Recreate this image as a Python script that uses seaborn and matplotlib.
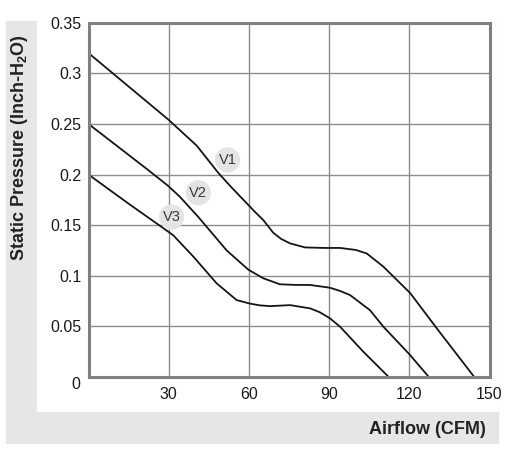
import pandas as pd
import seaborn as sns
import matplotlib.pyplot as plt
from matplotlib.patches import Rectangle

# Fan curves (airflow in CFM, static pressure in inch H2O)
v1_x = [0, 30, 40.5, 48.6, 53.6, 62.3, 65.4, 69.1, 72, 75.4, 81, 88, 94.1, 100, 104.1, 110.3, 115.3, 120.3, 130.3, 144.3]
v1_y = [0.320, 0.254, 0.2285, 0.2015, 0.187, 0.163, 0.155, 0.1425, 0.1365, 0.132, 0.128, 0.1275, 0.1275, 0.1255, 0.122, 0.109, 0.096, 0.083, 0.048, 0.0]

v2_x = [0, 22.3, 29.7, 34.2, 41.1, 51.7, 59.8, 65.4, 71.6, 77, 82.9, 90.3, 94.1, 97.8, 100.3, 105.3, 110.3, 120.3, 127.3]
v2_y = [0.250, 0.2045, 0.189, 0.178, 0.158, 0.125, 0.106, 0.0975, 0.0916, 0.091, 0.0909, 0.0882, 0.085, 0.081, 0.076, 0.066, 0.0497, 0.0217, 0.0]

v3_x = [0, 14.8, 27.2, 31.7, 39.2, 47.9, 55.4, 60.4, 64, 67.9, 75.4, 82.9, 86.5, 90.3, 94.1, 102.8, 112.3]
v3_y = [0.200, 0.1716, 0.1485, 0.140, 0.119, 0.0926, 0.076, 0.0725, 0.0708, 0.070, 0.071, 0.0678, 0.064, 0.058, 0.0497, 0.025, 0.0]

# curve name bubbles
label_names = ["V1", "V2", "V3"]
label_x = [52.0, 41.1, 31.1]
label_y = [0.2144, 0.182, 0.158]

x_ticks = [30, 60, 90, 120, 150]
y_ticks = [0.05, 0.1, 0.15, 0.2, 0.25, 0.3, 0.35]
y_tick_labels = ["0.05", "0.1", "0.15", "0.2", "0.25", "0.3", "0.35"]

curves = pd.concat([
    pd.DataFrame({"airflow": v1_x, "pressure": v1_y, "curve": "V1"}),
    pd.DataFrame({"airflow": v2_x, "pressure": v2_y, "curve": "V2"}),
    pd.DataFrame({"airflow": v3_x, "pressure": v3_y, "curve": "V3"}),
])

sns.set_style("white")
plt.rcParams["font.family"] = ["Liberation Sans", "DejaVu Sans"]
plt.rcParams["mathtext.fontset"] = "custom"
plt.rcParams["mathtext.rm"] = "Liberation Sans"
plt.rcParams["mathtext.bf"] = "Liberation Sans:bold"

W, H = 509, 461
fig = plt.figure(figsize=(W / 100, H / 100), dpi=100)

# gray L-shaped frame behind the plot
fig.patches.append(Rectangle((6 / W, 1 - 443 / H), 492 / W, 422 / H,
                             transform=fig.transFigure, color="#e6e6e7", zorder=-2))
fig.patches.append(Rectangle((37 / W, 1 - 411 / H), 461 / W, 411 / H,
                             transform=fig.transFigure, color="white", zorder=-1))

ax = fig.add_axes([88.5 / W, 84 / H, 401 / W, 354.3 / H])

sns.lineplot(data=curves, x="airflow", y="pressure", hue="curve",
             palette=["#151515"] * 3, estimator=None, sort=False,
             linewidth=1.3, legend=False, ax=ax)

ax.scatter(label_x, label_y, s=330, color="#e4e4e5", edgecolors="none", zorder=3)
for name, lx, ly in zip(label_names, label_x, label_y):
    ax.text(lx, ly, name, ha="center", va="center", fontsize=10.5,
            color="#3a3a3a", zorder=4)

ax.set_xlim(0, 150)
ax.set_ylim(0, 0.35)
ax.set_xticks(x_ticks)
ax.set_yticks(y_ticks, y_tick_labels)
ax.tick_params(axis="both", length=0, labelsize=11.5, colors="#1a1a1a")
ax.tick_params(axis="x", pad=7)
ax.tick_params(axis="y", pad=5)
ax.grid(True, color="#8c8c8c", linewidth=1.0)
for sp in ax.spines.values():
    sp.set_visible(True)
    sp.set_color("#808080")
    sp.set_linewidth(2.2)
ax.set_xlabel("")
ax.set_ylabel("")

# shared origin label
ax.annotate("0", xy=(0, 0), xycoords="axes fraction", xytext=(-8, -7),
            textcoords="offset pixels", ha="right", va="center",
            fontsize=11.5, color="#1a1a1a")

fig.text(20 / W, 1 - 148 / H, "Static Pressure (Inch-H$_\\mathbf{2}$O)",
         rotation=90, ha="center", va="center", fontsize=13,
         fontweight="bold", color="#222222")
fig.text(486 / W, 1 - 429 / H, "Airflow (CFM)", ha="right", va="center",
         fontsize=13, fontweight="bold", color="#222222")

fig.savefig("out.png", dpi=100)
